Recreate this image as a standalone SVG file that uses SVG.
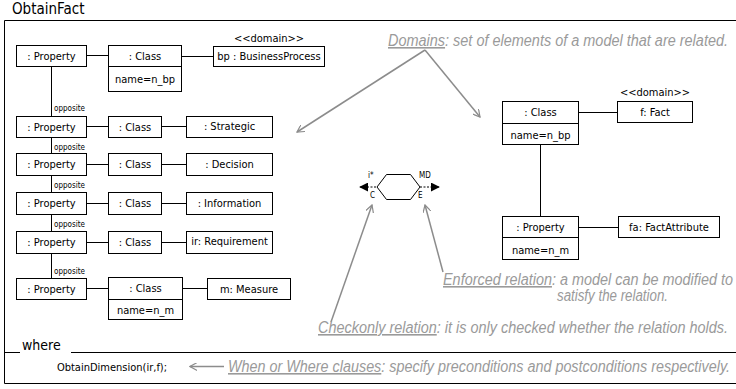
<svg xmlns="http://www.w3.org/2000/svg" width="736" height="389" viewBox="0 0 736 389">
<defs>
<style>
.bx{fill:#fff;stroke:#000;stroke-width:1}
.ln{stroke:#000;stroke-width:1;fill:none}
.t{font-family:"DejaVu Sans Condensed","DejaVu Sans",sans-serif;font-size:11px;fill:#000;text-anchor:middle}
.op{font-family:"DejaVu Sans Condensed","DejaVu Sans",sans-serif;font-size:8px;fill:#000}
.sm{font-family:"DejaVu Sans Condensed","DejaVu Sans",sans-serif;font-size:8px;fill:#000}
.an{font-family:"Liberation Sans Narrow","Liberation Sans",sans-serif;font-style:italic;font-size:16px;fill:#9a9a9a}
.u{text-decoration:underline}
.ga{stroke:#8c8c8c;stroke-width:1.5;fill:none}
</style>
<marker id="oa" viewBox="0 0 10 10" refX="9" refY="5" markerWidth="8" markerHeight="8" orient="auto" markerUnits="userSpaceOnUse">
<path d="M0,0 L9,5 L0,10" fill="none" stroke="#8c8c8c" stroke-width="1.5"/>
</marker>
<marker id="fa" viewBox="0 0 10 10" refX="9" refY="5" markerWidth="9" markerHeight="9" orient="auto" markerUnits="userSpaceOnUse">
<path d="M0,0 L10,5 L0,10 Z" fill="#000"/>
</marker>
</defs>

<text x="12" y="14" style="font-family:'DejaVu Sans Condensed','DejaVu Sans',sans-serif;font-size:15px;fill:#000">ObtainFact</text>
<g id="frame">
<path class="ln" d="M4.5,383.5 V20.5 H740"/>
<path class="ln" d="M4.5,383.5 H740"/>
<path class="ln" d="M4.5,352.5 H20 M71,352.5 H740"/>
<text x="22" y="350" style="font-family:'DejaVu Sans Condensed','DejaVu Sans',sans-serif;font-size:14px;fill:#000">where</text>
</g>

<g id="connectors">
<path class="ln" d="M86,55.5 H108 M181,56.5 H213"/>
<path class="ln" d="M51.5,66 V116 M51.5,137 V153 M51.5,175 V193 M51.5,214 V231 M51.5,253 V278"/>
<path class="ln" d="M86,126.5 H108 M161,126.5 H186"/>
<path class="ln" d="M86,164.5 H108 M161,164.5 H186"/>
<path class="ln" d="M86,203.5 H108 M161,203.5 H186"/>
<path class="ln" d="M86,242.5 H108 M161,242.5 H186"/>
<path class="ln" d="M86,288.5 H108 M182,288.5 H207"/>
<path class="ln" d="M578,112.5 H617 M540.5,144 V217 M578,227.5 H618"/>
<text class="op" x="54" y="111">opposite</text>
<text class="op" x="54" y="150">opposite</text>
<text class="op" x="54" y="188">opposite</text>
<text class="op" x="54" y="227">opposite</text>
<text class="op" x="54" y="274">opposite</text>
</g>

<g id="p1"><rect class="bx" x="16.5" y="45.5" width="70" height="21"/><text class="t" x="51.5" y="60">: Property</text></g>
<g id="c1"><rect class="bx" x="108.5" y="45.5" width="73" height="46"/><line class="ln" x1="108.5" y1="66.5" x2="181.5" y2="66.5"/><text class="t" x="145" y="60">: Class</text><text class="t" x="145" y="83">name=n_bp</text></g>
<g id="bp"><text class="t" x="269" y="42">&lt;&lt;domain&gt;&gt;</text><rect class="bx" x="213.5" y="46.5" width="111" height="20"/><text class="t" x="269" y="60">bp : BusinessProcess</text></g>

<g id="p2"><rect class="bx" x="16.5" y="116.5" width="70" height="21"/><text class="t" x="51.5" y="131">: Property</text></g>
<g id="c2"><rect class="bx" x="108.5" y="116.5" width="53" height="21"/><text class="t" x="135" y="131">: Class</text></g>
<g id="strategic"><rect class="bx" x="186.5" y="116.5" width="86" height="21"/><text class="t" x="229.5" y="130">: Strategic</text></g>

<g id="p3"><rect class="bx" x="16.5" y="153.5" width="70" height="22"/><text class="t" x="51.5" y="168">: Property</text></g>
<g id="c3"><rect class="bx" x="108.5" y="153.5" width="53" height="22"/><text class="t" x="135" y="168">: Class</text></g>
<g id="decision"><rect class="bx" x="186.5" y="153.5" width="86" height="22"/><text class="t" x="229.5" y="168">: Decision</text></g>

<g id="p4"><rect class="bx" x="16.5" y="192.5" width="70" height="22"/><text class="t" x="51.5" y="207">: Property</text></g>
<g id="c4"><rect class="bx" x="108.5" y="192.5" width="53" height="22"/><text class="t" x="135" y="207">: Class</text></g>
<g id="information"><rect class="bx" x="186.5" y="192.5" width="86" height="22"/><text class="t" x="229.5" y="207">: Information</text></g>

<g id="p5"><rect class="bx" x="16.5" y="231.5" width="70" height="22"/><text class="t" x="51.5" y="246">: Property</text></g>
<g id="c5"><rect class="bx" x="108.5" y="231.5" width="53" height="22"/><text class="t" x="135" y="246">: Class</text></g>
<g id="requirement"><rect class="bx" x="186.5" y="231.5" width="86" height="22"/><text class="t" x="229.5" y="245">ir: Requirement</text></g>

<g id="p6"><rect class="bx" x="16.5" y="278.5" width="70" height="21"/><text class="t" x="51.5" y="293">: Property</text></g>
<g id="c6"><rect class="bx" x="108.5" y="277.5" width="74" height="42"/><line class="ln" x1="108.5" y1="299.5" x2="182.5" y2="299.5"/><text class="t" x="145.5" y="292">: Class</text><text class="t" x="145.5" y="314">name=n_m</text></g>
<g id="measure"><rect class="bx" x="207.5" y="278.5" width="83" height="21"/><text class="t" x="249" y="293">m: Measure</text></g>

<g id="rc"><rect class="bx" x="502.5" y="101.5" width="76" height="43"/><line class="ln" x1="502.5" y1="123.5" x2="578.5" y2="123.5"/><text class="t" x="540.5" y="116">: Class</text><text class="t" x="540.5" y="139">name=n_bp</text></g>
<g id="fact"><text class="t" x="655" y="96">&lt;&lt;domain&gt;&gt;</text><rect class="bx" x="617.5" y="101.5" width="75" height="21"/><text class="t" x="655" y="116">f: Fact</text></g>
<g id="rp"><rect class="bx" x="502.5" y="216.5" width="76" height="43"/><line class="ln" x1="502.5" y1="237.5" x2="578.5" y2="237.5"/><text class="t" x="540.5" y="231">: Property</text><text class="t" x="540.5" y="254">name=n_m</text></g>
<g id="factattr"><rect class="bx" x="618.5" y="216.5" width="101" height="21"/><text class="t" x="669" y="231">fa: FactAttribute</text></g>

<g id="relation">
<path class="ln" d="M377,187 L386.5,174.5 H410.5 L420,187 L410.5,199.5 H386.5 Z"/>
<path class="ln" d="M376,187 H360" stroke-dasharray="2,1.5" marker-end="url(#fa)"/>
<path class="ln" d="M420,187 H439" stroke-dasharray="2,1.5" marker-end="url(#fa)"/>
<text class="sm" x="368" y="178">i*</text>
<text class="sm" x="370" y="198">C</text>
<text class="sm" x="419" y="178">MD</text>
<text class="sm" x="418" y="198">E</text>
</g>

<g id="annotations">
<path class="ga" d="M425,50 L297,132" marker-end="url(#oa)"/>
<path class="ga" d="M425,50 L480,117" marker-end="url(#oa)"/>
<path class="ga" d="M443,272 L425,205" marker-end="url(#oa)"/>
<path class="ga" d="M331,322 L372,205" marker-end="url(#oa)"/>
<path class="ga" d="M224,366.5 L190,366.5" marker-end="url(#oa)"/>
<text class="an" x="388" y="46" textLength="340" lengthAdjust="spacingAndGlyphs"><tspan class="u">Domains</tspan>: set of elements of a model that are related.</text>
<text class="an" x="443" y="285" textLength="290" lengthAdjust="spacingAndGlyphs"><tspan class="u">Enforced relation</tspan>: a model can be modified to</text>
<text class="an" x="557" y="301" textLength="111" lengthAdjust="spacingAndGlyphs">satisfy the relation.</text>
<text class="an" x="318" y="333" textLength="410" lengthAdjust="spacingAndGlyphs"><tspan class="u">Checkonly relation</tspan>: it is only checked whether the relation holds.</text>
<text class="an" x="228" y="372" textLength="502" lengthAdjust="spacingAndGlyphs"><tspan class="u">When or Where clauses</tspan>: specify preconditions and postconditions respectively.</text>
</g>

<g id="where-clause"><text class="t" x="112" y="371">ObtainDimension(ir,f);</text></g>
</svg>
